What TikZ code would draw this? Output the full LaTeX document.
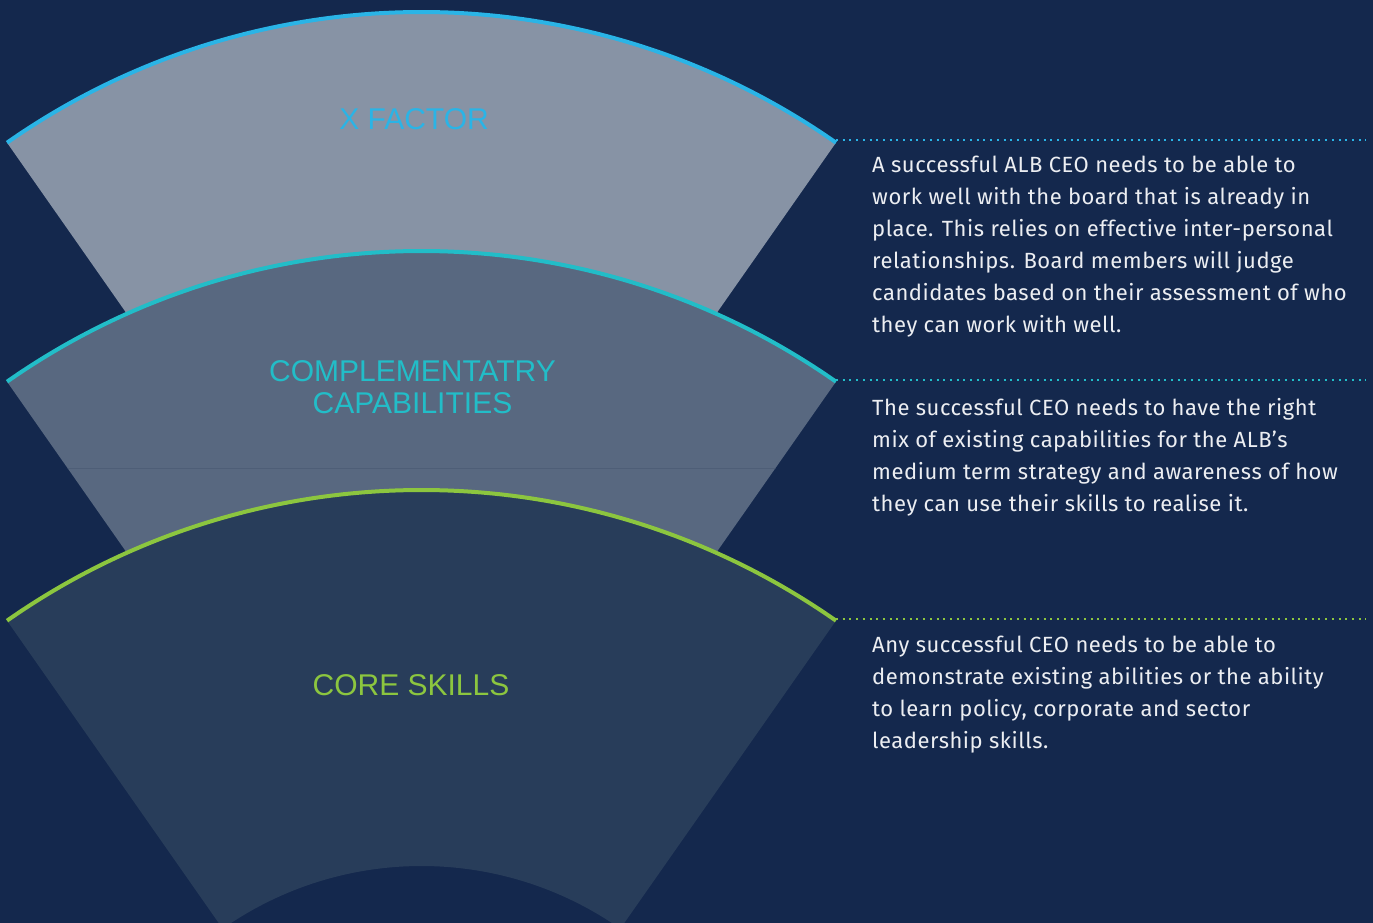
\documentclass[tikz,border=0pt]{standalone}
\usepackage{fontspec}
\setmainfont{Fira Sans}[LetterSpace=2.4]
\newfontfamily\labelfont{Liberation Sans}
\usetikzlibrary{calc}
\definecolor{bg}{HTML}{14284D}
\definecolor{secA}{HTML}{8793A5}
\definecolor{secB}{HTML}{586880}
\definecolor{secC}{HTML}{283D5A}
\definecolor{cyanA}{HTML}{2AB4E6}
\definecolor{tealB}{HTML}{22BDC8}
\definecolor{greenC}{HTML}{8CC63F}
\definecolor{bodytext}{HTML}{ECEEF2}
\definecolor{seam}{HTML}{4E5E77}
\tikzset{
  arcline/.style={line width=4pt},
  dotline/.style={line width=2pt, dash pattern=on 2pt off 4.7pt},
  title/.style={font=\labelfont\fontsize{30}{32}\selectfont, anchor=base, align=center, inner sep=0pt},
  body/.style={font=\fontsize{22}{32}\selectfont, text=bodytext, align=left, anchor=north west, inner sep=0pt},
}
\begin{document}
\begin{tikzpicture}[x=1pt,y=1pt]
\useasboundingbox (0,0) rectangle (1373,922);
\clip (0,0) rectangle (1373,922);
\fill[bg] (-20,-20) rectangle (1393,942);
\def\Rout{722.6}
\def\Rin{346.6}
\coordinate (cA) at (421.5,187.4);
\coordinate (cB) at (421.5,-51.6);
\coordinate (cC) at (421.5,-290.6);
% sector A
\fill[secA] (cA) ++(125:\Rout) arc[start angle=125,end angle=55,radius=\Rout] -- ++(235:{\Rout-\Rin}) arc[start angle=55,end angle=125,radius=\Rin] -- cycle;
\draw[arcline,cyanA] (cA) ++(125:\Rout) arc[start angle=125,end angle=55,radius=\Rout];
% sector B
\fill[secB] (cB) ++(125:\Rout) arc[start angle=125,end angle=55,radius=\Rout] -- ++(235:{\Rout-\Rin}) arc[start angle=55,end angle=125,radius=\Rin] -- cycle;
\begin{scope}
\clip (cB) ++(125:\Rout) arc[start angle=125,end angle=55,radius=\Rout] -- ++(235:{\Rout-\Rin}) arc[start angle=55,end angle=125,radius=\Rin] -- cycle;
\draw[seam,line width=1pt] (0,453.5) -- (900,453.5);
\end{scope}
\draw[arcline,tealB] (cB) ++(125:\Rout) arc[start angle=125,end angle=55,radius=\Rout];
% sector C
\fill[secC] (cC) ++(125:\Rout) arc[start angle=125,end angle=55,radius=\Rout] -- ++(235:{\Rout-\Rin}) arc[start angle=55,end angle=125,radius=\Rin] -- cycle;
\draw[arcline,greenC] (cC) ++(125:\Rout) arc[start angle=125,end angle=55,radius=\Rout];
% titles
\node[title,text=cyanA] (tA) at (414,792) {X FACTOR};
\node[title,text=tealB] (tB) at (412.5,508) {COMPLEMENTATRY\\CAPABILITIES};
\node[title,text=greenC] (tC) at (411,227) {CORE SKILLS};
% dotted leaders
\coordinate (dA1) at (836,782);
\coordinate (dA2) at (1366,782);
\coordinate (dB1) at (836,542);
\coordinate (dB2) at (1366,542);
\coordinate (dC1) at (836,303);
\coordinate (dC2) at (1366,303);
\draw[dotline,cyanA] (dA1) -- (dA2);
\draw[dotline,tealB] (dB1) -- (dB2);
\draw[dotline,greenC] (dC1) -- (dC2);
% body texts
\node[body] (pA) at (872,766) {A successful ALB CEO needs to be able to\\work well with the board that is already in\\place. This relies on effective inter-personal\\relationships. Board members will judge\\candidates based on their assessment of who\\they can work with well.};
\node[body] (pB) at (872,524) {The successful CEO needs to have the right\\mix of existing capabilities for the ALB’s\\medium term strategy and awareness of how\\they can use their skills to realise it.};
\node[body] (pC) at (872,286) {Any successful CEO needs to be able to\\demonstrate existing abilities or the ability\\to learn policy, corporate and sector\\leadership skills.};
\end{tikzpicture}
\end{document}
